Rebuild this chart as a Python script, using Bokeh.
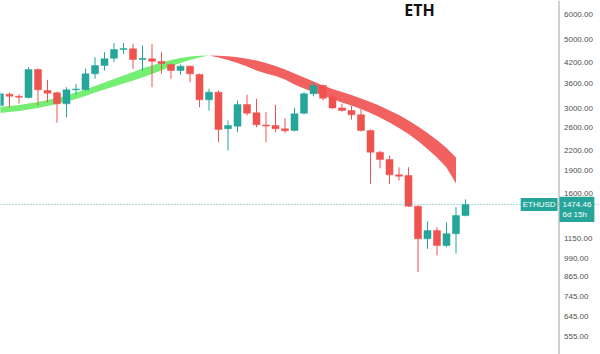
import numpy as np
from bokeh.plotting import figure
from bokeh.models import Range1d, Label, Span, ColumnDataSource
from bokeh.core.properties import value
from bokeh.embed import file_html
from bokeh.resources import INLINE

# Weekly ETHUSD candles (oldest first)
opens = [3062, 3329, 3280, 3249, 3996, 3421, 3364, 3101, 3439, 3439,
         3871, 4116, 4344, 4632, 4656, 4303, 4325, 4240, 4146, 3967,
         4095, 3851, 3193, 3380, 2579, 2628, 3085, 2902, 2651, 2641,
         2579, 2546, 2893, 3339, 3550, 3256, 3009, 2951, 2859, 2546,
         2169, 2055, 1834, 1825, 1455, 1143, 1216, 1088, 1187, 1358]
highs = [3395, 3372, 3329, 4065, 4026, 3703, 3395, 3505, 3595, 4018,
         4376, 4540, 4858, 4858, 4832, 4772, 4832, 4540, 4177, 4146,
         4116, 3880, 3465, 3421, 2741, 3177, 3314, 3217, 2914, 3078,
         2788, 3009, 3380, 3638, 3576, 3297, 3101, 3062, 2987, 2565,
         2188, 2116, 1940, 1940, 1462, 1299, 1246, 1292, 1444, 1530]
lows = [3016, 3016, 3108, 3225, 3062, 3137, 2695, 2808, 3314, 3421,
        3730, 3967, 4218, 4487, 4018, 3967, 3505, 3871, 3730, 3843,
        3638, 3023, 2951, 2334, 2196, 2514, 2844, 2608, 2334, 2514,
        2502, 2527, 2866, 3280, 3177, 2987, 2929, 2761, 2527, 1716,
        1925, 1716, 1759, 1446, 894, 1062, 1011, 1074, 1024, 1350]
closes = [3339, 3280, 3256, 3996, 3439, 3354, 3101, 3439, 3460, 3871,
          4116, 4325, 4632, 4667, 4303, 4341, 4249, 4177, 3967, 4095,
          3871, 3193, 3380, 2565, 2641, 3085, 2893, 2655, 2631, 2579,
          2540, 2880, 3339, 3550, 3233, 3009, 2951, 2859, 2546, 2169,
          2055, 1834, 1816, 1455, 1143, 1216, 1088, 1187, 1358, 1474.46]

# Moving-average ribbon (fast / slow)
ma_fast = [3028, 3051, 3073, 3108, 3142, 3189, 3237, 3297, 3372, 3448,
           3537, 3629, 3725, 3823, 3923, 4026, 4116, 4209, 4287, 4351,
           4398, 4424, 4431, 4366, 4287, 4193, 4086, 3967, 3880, 3809,
           3711, 3576, 3472, 3384, 3297, 3212, 3131, 3062, 2983, 2897,
           2802, 2702, 2593, 2480, 2356, 2221, 2086, 1937, 1721]
ma_slow = [2897, 2919, 2940, 2973, 3005, 3051, 3096, 3154, 3212, 3285,
           3372, 3448, 3524, 3603, 3684, 3766, 3865, 3967, 4086, 4193,
           4287, 4366, 4431, 4421, 4405, 4373, 4325, 4271, 4193, 4101,
           3996, 3880, 3766, 3657, 3550, 3460, 3384, 3309, 3225, 3142,
           3051, 2951, 2854, 2741, 2622, 2499, 2373, 2237, 2086]

price_ticks = [555, 645, 745, 865, 990, 1150, 1600, 1900, 2200, 2600,
               3000, 3600, 4200, 5000, 6000]
last_price = 1474.46
symbol = "ETHUSD"
chart_title = "ETH"
countdown = "6d 15h"

UP = "#26a69a"
DOWN = "#ef5350"
BULL_BAND = "#74ef74"
BEAR_BAND = "#ef5956"
SCALE_FONT = "Liberation Sans"

n = len(closes)
idx = np.arange(n)
o = np.array(opens, float)
c = np.array(closes, float)
up = c >= o
colors = [UP if u else DOWN for u in up]

src = ColumnDataSource(dict(
    x=idx, top=np.maximum(o, c), bottom=np.minimum(o, c),
    high=highs, low=lows, color=colors))

bar_px = 9.5          # horizontal pixels per weekly bar
W, H = 600, 354
pane_w = 558          # width of the candle pane, price scale to its right
x0 = 0.5 / bar_px
x1 = x0 + W / bar_px
scale_x = x0 + (pane_w + 0.5) / bar_px

p = figure(frame_width=W, frame_height=H, y_axis_type="log",
           output_backend="svg", toolbar_location=None,
           x_range=Range1d(x0, x1), y_range=Range1d(486.2, 6654),
           min_border=0, background_fill_color="white",
           border_fill_color="white")
p.outline_line_color = None
p.xaxis.visible = False
p.yaxis.visible = False
p.grid.visible = False

# ribbon between the two averages, green while fast is above slow
fast = np.array(ma_fast, float)
slow = np.array(ma_slow, float)
mi = np.arange(len(fast))
bull = fast >= slow
cross = int(np.argmax(~bull)) - 1 if (~bull).any() else len(fast) - 1
p.varea(x=mi[:cross + 1], y1=slow[:cross + 1], y2=fast[:cross + 1],
        fill_color=BULL_BAND)
p.varea(x=mi[cross:], y1=fast[cross:], y2=slow[cross:],
        fill_color=BEAR_BAND, fill_alpha=0.95)

# candles
p.segment(x0="x", y0="low", x1="x", y1="high", color="color",
          line_width=1, source=src)
p.vbar(x="x", width=0.74, top="top", bottom="bottom", fill_color="color",
       line_color="color", line_width=0.5, source=src)

# last price line
p.add_layout(Span(location=last_price, dimension="width", line_color=UP,
                  line_width=1, line_dash="1 2", line_alpha=0.8))

# price scale on the right
p.add_layout(Span(location=scale_x, dimension="height",
                  line_color="#a0a0a0", line_width=1))
p.text(x=[scale_x] * len(price_ticks), y=price_ticks,
       text=[f"{t:.2f}" for t in price_ticks], x_offset=5,
       text_align="left", text_baseline="middle",
       text_font=value(SCALE_FONT), text_font_size="8px",
       text_color=value("#4f4f4f"))

# symbol tag and last-price tag
p.add_layout(Label(x=scale_x - 0.15, y=last_price, text=symbol,
                   text_align="right", text_baseline="middle",
                   text_color="white", text_font=SCALE_FONT,
                   text_font_size="8px", background_fill_color=UP,
                   padding=2))
p.add_layout(Label(x=scale_x + 0.05, y=last_price, y_offset=-5,
                   text=f"{last_price:.2f}\n{countdown}",
                   text_align="left", text_baseline="middle",
                   text_color="white", text_font=SCALE_FONT,
                   text_font_size="8px", text_line_height=1.15,
                   background_fill_color=UP, padding=3))

# title
p.add_layout(Label(x=x0 + 419 / bar_px, y=6180, text=chart_title,
                   text_align="center", text_baseline="middle",
                   text_font="Open Sans", text_font_style="bold",
                   text_font_size="16px", text_color="#111111"))

open("out.html", "w").write(file_html(p, INLINE))
